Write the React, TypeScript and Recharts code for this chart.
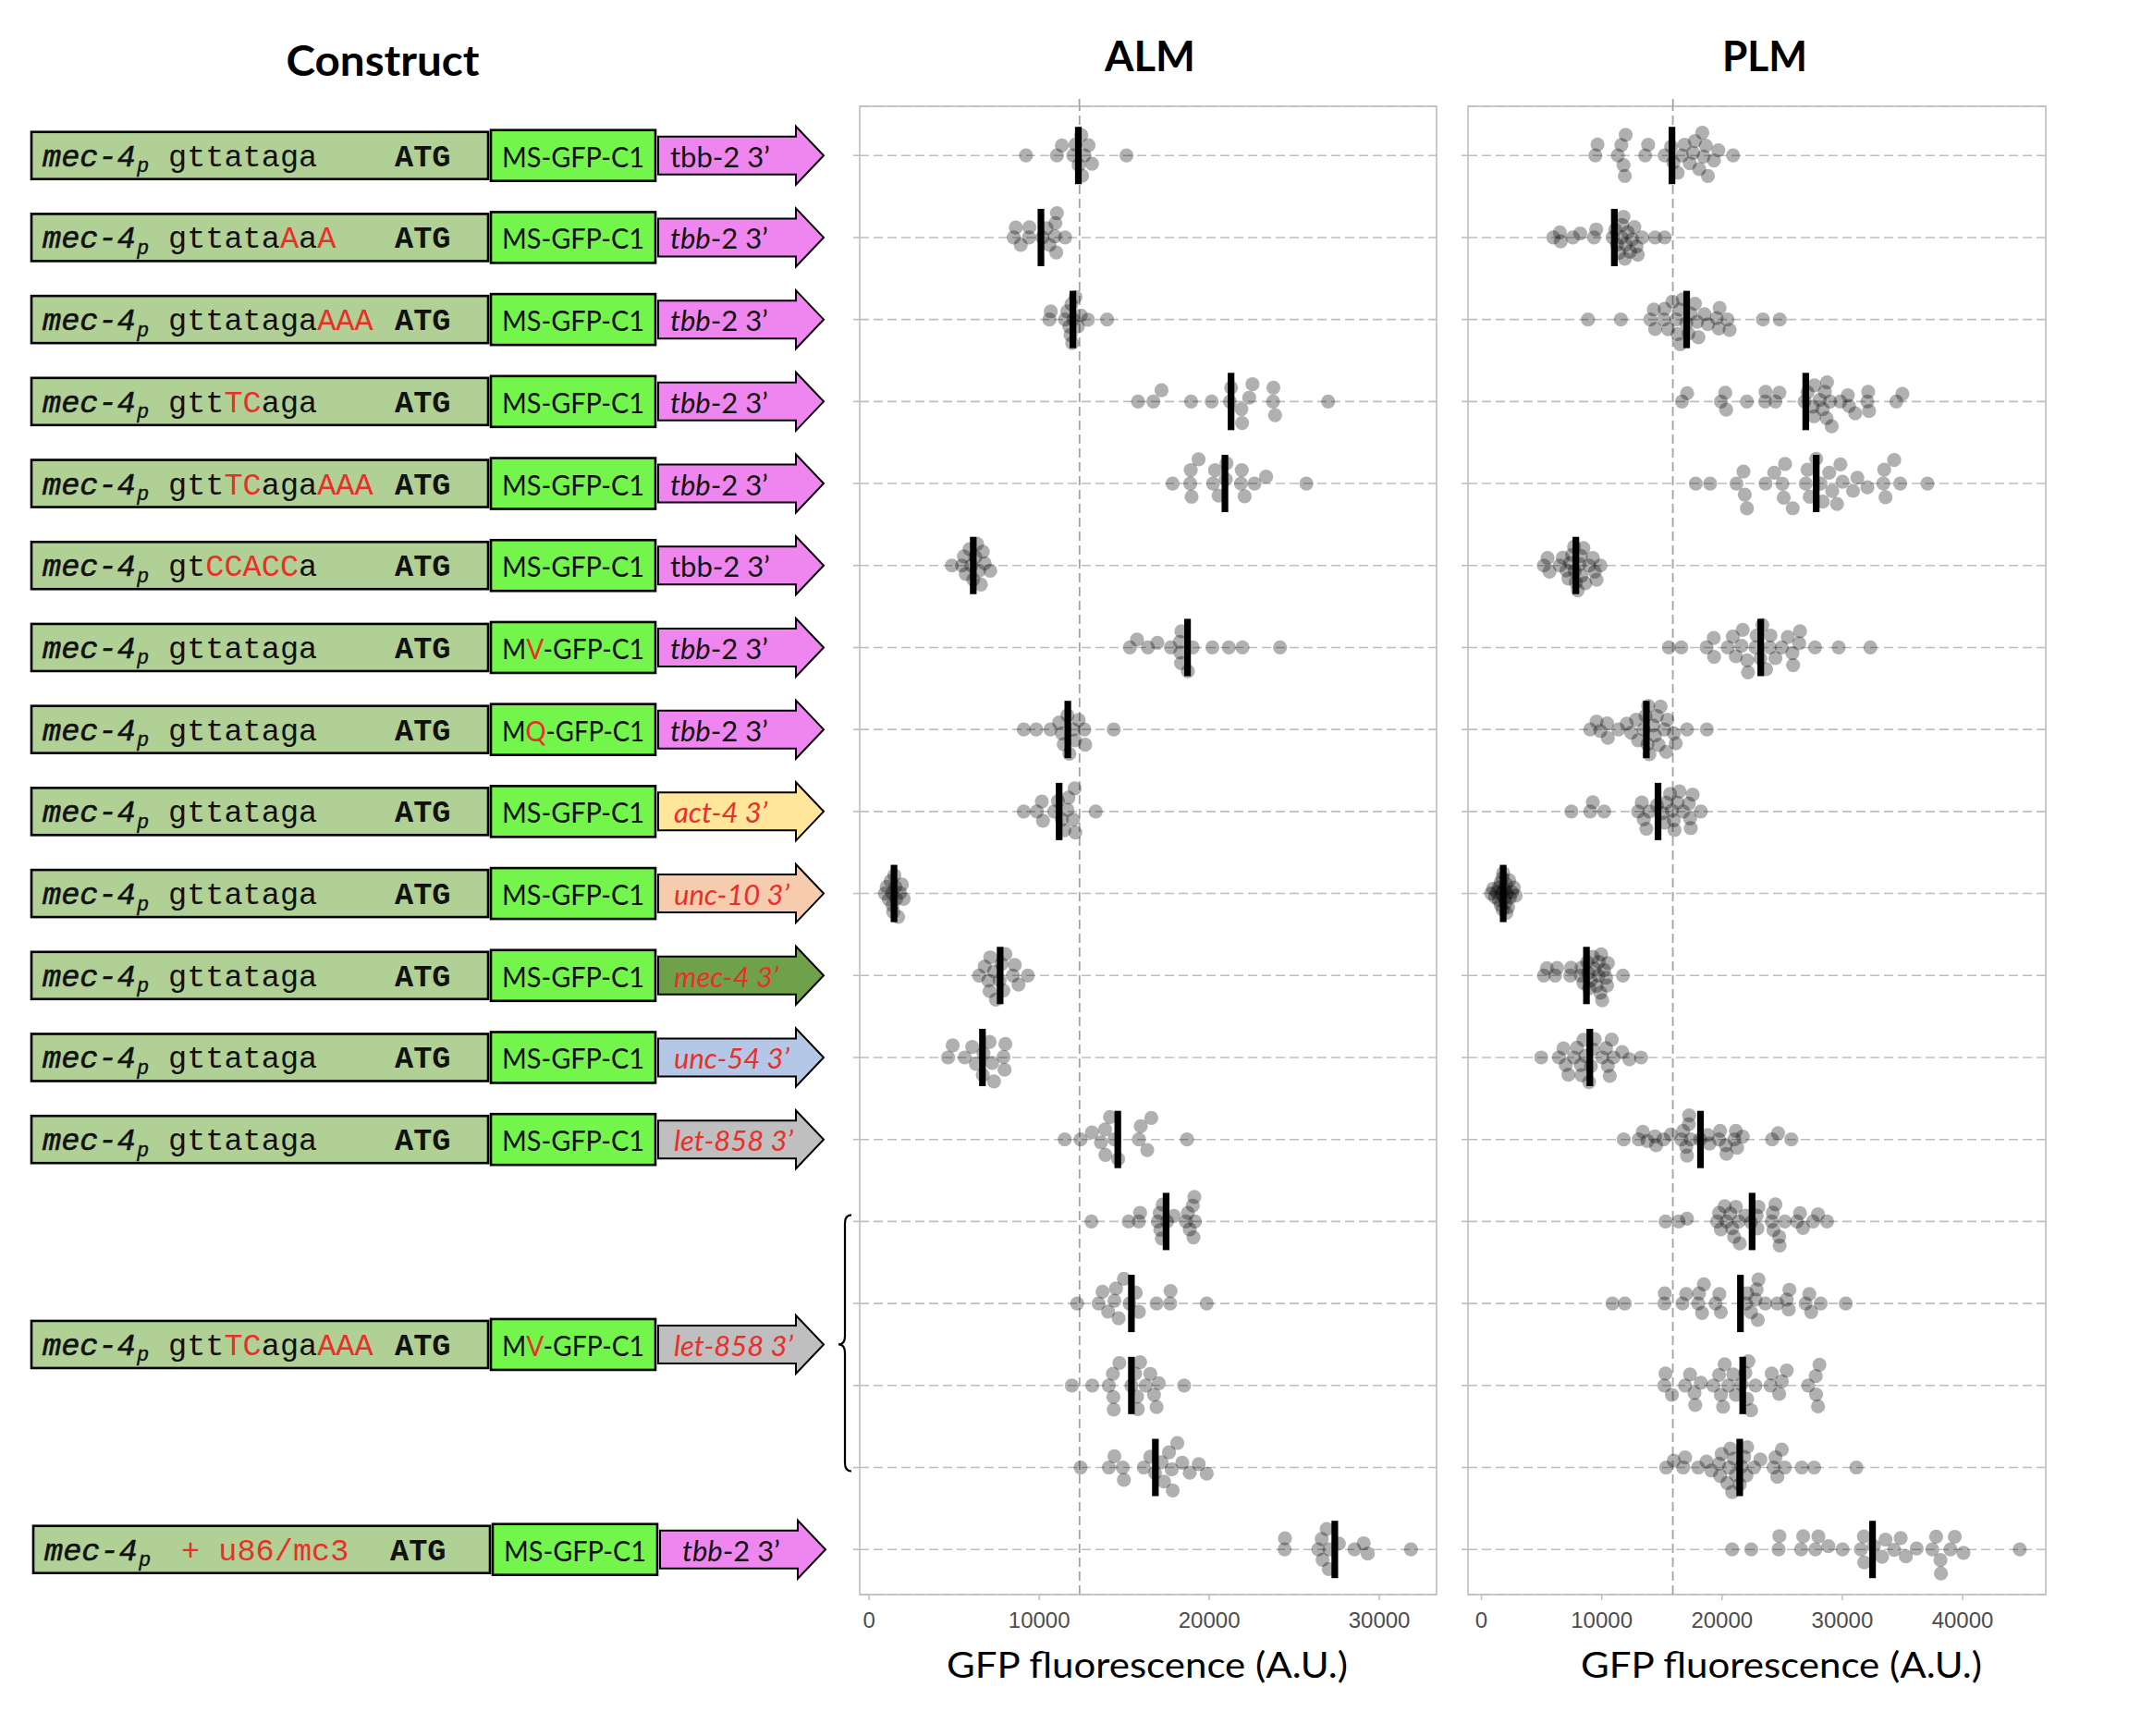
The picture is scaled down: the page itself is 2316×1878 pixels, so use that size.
import React from 'react';
import { ScatterChart, Scatter, XAxis, YAxis, CartesianGrid, ReferenceLine } from 'recharts';

// ---------------- DATA ----------------
// construct descriptions ({...} = red, _..._ = italic)
const CONSTRUCT_ROW_POS = [1, 2, 3, 4, 5, 6, 7, 8, 9, 10, 11, 12, 13, 15.5, 18];
const PROMOTER_SEQ = [
  'gttataga', 'gttata{A}a{A}', 'gttataga{AAA}', 'gtt{TC}aga', 'gtt{TC}aga{AAA}', 'gt{CCACC}a',
  'gttataga', 'gttataga', 'gttataga', 'gttataga', 'gttataga', 'gttataga', 'gttataga',
  'gtt{TC}aga{AAA}', '{+ u86/mc3}',
];
const GFP_LABEL = [
  'MS-GFP-C1', 'MS-GFP-C1', 'MS-GFP-C1', 'MS-GFP-C1', 'MS-GFP-C1', 'MS-GFP-C1', 'M{V}-GFP-C1', 'M{Q}-GFP-C1',
  'MS-GFP-C1', 'MS-GFP-C1', 'MS-GFP-C1', 'MS-GFP-C1', 'MS-GFP-C1', 'M{V}-GFP-C1', 'MS-GFP-C1',
];
const UTR_GENE = [
  'tbb-2', 'tbb-2', 'tbb-2', 'tbb-2', 'tbb-2', 'tbb-2', 'tbb-2', 'tbb-2',
  'act-4', 'unc-10', 'mec-4', 'unc-54', 'let-858', 'let-858', 'tbb-2',
];
const UTR_LABEL = [
  'tbb-2 3’', '_tbb_-2 3’', '_tbb_-2 3’', '_tbb_-2 3’', '_tbb_-2 3’', 'tbb-2 3’', '_tbb_-2 3’', '_tbb_-2 3’',
  '{_act-4 3’_}', '{_unc-10 3’_}', '{_mec-4 3’_}', '{_unc-54 3’_}', '{_let-858 3’_}', '{_let-858 3’_}', '_tbb_-2 3’',
];

const ALM_TICKS = [0, 10000, 20000, 30000];
const PLM_TICKS = [0, 10000, 20000, 30000, 40000];
const ALM_DOMAIN: [number, number] = [-557, 33366];
const PLM_DOMAIN: [number, number] = [-1116, 46913];
const ALM_REF = 12370;
const PLM_REF = 15910;

const almR01 = [9220, 11040, 11330, 12130, 12320, 12470, 12520, 12660, 12900, 13100, 15130, 12000];
const almR02 = [8500, 8620, 8910, 9420, 9400, 10190, 10430, 10600, 10920, 10950, 11040, 11000, 11520];
const almR03 = [10600, 10680, 11520, 11650, 11770, 11890, 12010, 12130, 12270, 12440, 12860, 13990, 11940, 11840];
const almR04 = [15810, 16710, 17190, 18930, 20140, 21210, 21280, 21890, 21930, 22350, 22540, 23750, 23770, 23870, 26990];
const almR05 = [17840, 18880, 18910, 18960, 19370, 20220, 20340, 20550, 20970, 21010, 21860, 22080, 21910, 22660, 23340, 25710];
const almR06 = [4860, 5460, 5570, 5680, 5900, 6010, 6120, 6240, 6350, 6460, 6570, 6680, 6790, 7120];
const almR07 = [15330, 15750, 16390, 16950, 17740, 18300, 18340, 18360, 18740, 19030, 20180, 21150, 21950, 24160, 18270];
const almR08 = [9090, 9820, 10660, 11170, 11330, 11440, 11660, 11770, 11990, 12100, 12320, 12650, 12700, 14380];
const almR09 = [9090, 9860, 10150, 10220, 10880, 11100, 11330, 11660, 11720, 11990, 12080, 12120, 13320, 11480];
const almR10 = [920, 1030, 1150, 1260, 1370, 1410, 1480, 1540, 1590, 1700, 1810, 1920, 2030, 1350];
const almR11 = [6460, 6790, 7010, 7120, 7340, 7450, 7670, 7780, 7890, 8010, 8450, 8560, 8780, 9330, 7080];
const almR12 = [4640, 4910, 5620, 6060, 6280, 6680, 6720, 7080, 7230, 7340, 7900, 7960, 8010];
const almR13 = [11500, 12430, 13100, 13630, 13870, 13890, 14160, 14420, 14640, 15860, 15970, 16350, 16590, 18690];
const almR14 = [13070, 15260, 15860, 15930, 16970, 17080, 17120, 17260, 17520, 17920, 18630, 18740, 18850, 19030, 19120, 19160, 19070, 17210];
const almR15 = [12230, 13490, 13720, 14050, 14420, 14510, 14670, 14980, 15310, 15680, 15860, 16900, 17700, 17720, 19850];
const almR16 = [11920, 13120, 14090, 14360, 14380, 14330, 14710, 15420, 15750, 15800, 15930, 16260, 16530, 16750, 16900, 17030, 18520, 15640];
const almR17 = [12430, 14090, 14420, 14910, 14980, 16150, 16530, 16810, 17190, 17340, 17630, 17790, 17850, 18120, 18410, 18850, 19380, 19850];
const almR18 = [24430, 24450, 26410, 26660, 26610, 26900, 27020, 27070, 27620, 28540, 29080, 29320, 31860];

const plmR01 = [9470, 9650, 11340, 11630, 11810, 11920, 11990, 13610, 13860, 15230, 15770, 15950, 16310, 16670, 16880, 17320, 17600, 17750, 18110, 18360, 18470, 18650, 18830, 19330, 19690, 20920];
const plmR02 = [5980, 6520, 6590, 7600, 8210, 9360, 9540, 10910, 11120, 11270, 11450, 11630, 11700, 11810, 11920, 11990, 12170, 12350, 12530, 12710, 12890, 13000, 13360, 14440, 15230];
const plmR03 = [8860, 11590, 14040, 14330, 14440, 15160, 15230, 15520, 15880, 16200, 16490, 16520, 16740, 17030, 17210, 17390, 17750, 17930, 18040, 18540, 18830, 19550, 19730, 19800, 20450, 20630, 23400, 24800, 16310];
const plmR04 = [16670, 17100, 19910, 20270, 20340, 22070, 23580, 23620, 24440, 24770, 26860, 27110, 27540, 27650, 28120, 28370, 28550, 28730, 28980, 29120, 29840, 30460, 30560, 31070, 32150, 32220, 32080, 34490, 34990, 27680, 28690];
const plmR05 = [17820, 19010, 21200, 21780, 21890, 22070, 23620, 24340, 25020, 25130, 25240, 25880, 26960, 27110, 27290, 27830, 28370, 28910, 29160, 29560, 29840, 30020, 30890, 31250, 32080, 33410, 33480, 33590, 34310, 34810, 37080, 28190];
const plmR06 = [5190, 5500, 5660, 6510, 6760, 7070, 7230, 7380, 7540, 7700, 7760, 7850, 8010, 8170, 8260, 8320, 8480, 8630, 8950, 9260, 9420, 9570, 9890];
const plmR07 = [15580, 16620, 18710, 19310, 19340, 20470, 20900, 21150, 21620, 21720, 22090, 22160, 22780, 22880, 23190, 23350, 23660, 23970, 24030, 24440, 24970, 25470, 25850, 25910, 26410, 26480, 27730, 29700, 32330];
const plmR08 = [9040, 9570, 9890, 10450, 10510, 11390, 12080, 12450, 12860, 13020, 13490, 13640, 13800, 13860, 13960, 14270, 14430, 14580, 14740, 14890, 15210, 15360, 15460, 15990, 16150, 17090, 18740];
const plmR09 = [7480, 9040, 9260, 10200, 13020, 13330, 13490, 13710, 13960, 14580, 15050, 15210, 15360, 15680, 15830, 15990, 16300, 16460, 16770, 17240, 17340, 17400, 17560, 18240, 16050];
const plmR10 = [810, 970, 1120, 1280, 1440, 1590, 1690, 1750, 1810, 1910, 2000, 2060, 2120, 2220, 2310, 2370, 2530, 2690, 2840, 1450, 1760, 1900, 2070, 1600];
const plmR11 = [5190, 5440, 6130, 6290, 7380, 7450, 8260, 8320, 8480, 8790, 8880, 8950, 9100, 9260, 9420, 9570, 9730, 9760, 9890, 9950, 10040, 10200, 10360, 10450, 10510, 11760];
const plmR12 = [4970, 6440, 6820, 7010, 7230, 7700, 7950, 8260, 8320, 8480, 8630, 8950, 9100, 9260, 9420, 10040, 10360, 10510, 10670, 10830, 10980, 11700, 12300, 13270];
const plmR13 = [11830, 13080, 13420, 13800, 14430, 14520, 15140, 15740, 16620, 16770, 17020, 17090, 17240, 17270, 17400, 18180, 18810, 18960, 19750, 19840, 20310, 20370, 21030, 21150, 21250, 21720, 24160, 24660, 25760];
const plmR14 = [15300, 16400, 17090, 19590, 19750, 19900, 20220, 20370, 20690, 20840, 21000, 21150, 21400, 21470, 21940, 22410, 22880, 22940, 23030, 24130, 24220, 24280, 24440, 24750, 24790, 25220, 26230, 26480, 26730, 27570, 27980, 28730];
const plmR15 = [10890, 11920, 15210, 15240, 16710, 17020, 18020, 18090, 18340, 18490, 19460, 19780, 19900, 22000, 22090, 22410, 22780, 22880, 22970, 23030, 23600, 24600, 25380, 25540, 25600, 26950, 27260, 27410, 28200, 30290];
const plmR16 = [15210, 15300, 15830, 16930, 17340, 17710, 17770, 18240, 19280, 19750, 19900, 20090, 20220, 20530, 20940, 21150, 21620, 21940, 22090, 22190, 22410, 22780, 24030, 24130, 24750, 24970, 25380, 27160, 27820, 27980, 28100, 27790];
const plmR17 = [15360, 15990, 16770, 16930, 18020, 18710, 19120, 19750, 19840, 19970, 20430, 20590, 20690, 20840, 21000, 21150, 21470, 21620, 21840, 22030, 22090, 22660, 23190, 24280, 24440, 24600, 24970, 25220, 26630, 27660, 31170];
const plmR18 = [20840, 22430, 24700, 24770, 26570, 26750, 27760, 28010, 28840, 30020, 31540, 31790, 31820, 32620, 33300, 33590, 34310, 34850, 35280, 36180, 37480, 37800, 38160, 38200, 38990, 39350, 40070, 44750];

const ALM_MEDIANS = [12300, 10100, 11980, 21280, 20920, 6120, 18720, 11680, 11170, 1460, 7700, 6660, 14620, 17460, 15420, 15420, 16830, 27380];
const PLM_MEDIANS = [15840, 11050, 17060, 26960, 27830, 7850, 23220, 13710, 14680, 1810, 8730, 9010, 18210, 22500, 21530, 21720, 21470, 32510];

const ALM_ROWS = [almR01, almR02, almR03, almR04, almR05, almR06, almR07, almR08, almR09, almR10, almR11, almR12, almR13, almR14, almR15, almR16, almR17, almR18];
const PLM_ROWS = [plmR01, plmR02, plmR03, plmR04, plmR05, plmR06, plmR07, plmR08, plmR09, plmR10, plmR11, plmR12, plmR13, plmR14, plmR15, plmR16, plmR17, plmR18];

// ---------------- LAYOUT / STYLE ----------------
const PLOT_TOP = 115;
const PLOT_H = 1610;
const Y_DOMAIN: [number, number] = [0.4, 18.55];
const ROW_TICKS = Array.from({ length: 18 }, (_, i) => i + 1);
const rowY = (p: number) => PLOT_TOP + ((p - Y_DOMAIN[0]) * PLOT_H) / (Y_DOMAIN[1] - Y_DOMAIN[0]);

const RED = '#E8302A';
const SANS = 'Lato, "Open Sans", sans-serif';
const MONO = '"Liberation Mono", "DejaVu Sans Mono", monospace';
const DOT_R = 7.6;
const UTR_FILL: Record<string, string> = {
  'tbb-2': '#EF86EF', 'act-4': '#FFE69B', 'unc-10': '#F6CBAE', 'mec-4': '#6FA04A', 'unc-54': '#B5C7E6', 'let-858': '#BFBFBF',
};

function parseMarkup(s: string) {
  const segs: { t: string; red: boolean; it: boolean }[] = [];
  let red = false, it = false, buf = '';
  const flush = () => { if (buf) { segs.push({ t: buf, red, it }); buf = ''; } };
  for (const ch of s) {
    if (ch === '{') { flush(); red = true; }
    else if (ch === '}') { flush(); red = false; }
    else if (ch === '_') { flush(); it = !it; }
    else buf += ch;
  }
  flush();
  return segs;
}

function Markup({ s }: { s: string }) {
  return (
    <>
      {parseMarkup(s).map((g, i) => (
        <tspan key={i} fill={g.red ? RED : '#111'} fontStyle={g.it ? 'italic' : 'normal'}>{g.t}</tspan>
      ))}
    </>
  );
}

// beeswarm layout (pixel offsets), compressing when the swarm gets too tall
function swarmOffsets(values: number[], pxPerUnit: number, maxOff = 27): number[] {
  const order = values.map((_, i) => i).sort((a, b) => values[a] - values[b]);
  let last: number[] = values.map(() => 0);
  for (let d = 15; d >= 2; d -= 0.5) {
    const ys = values.map(() => 0);
    const placed: number[] = [];
    let ok = true;
    for (const i of order) {
      const xi = values[i] * pxPerUnit;
      const iv: [number, number][] = [];
      for (const j of placed) {
        const dx = Math.abs(xi - values[j] * pxPerUnit);
        if (dx < d) { const h = Math.sqrt(d * d - dx * dx); iv.push([ys[j] - h, ys[j] + h]); }
      }
      const cands = [0, ...iv.flatMap(([a, b]) => [a, b])].sort((a, b) => Math.abs(a) - Math.abs(b) || a - b);
      let chosen = 0;
      for (const c of cands) {
        if (iv.every(([a, b]) => c <= a + 1e-6 || c >= b - 1e-6)) { chosen = c; break; }
      }
      ys[i] = chosen;
      placed.push(i);
      if (Math.abs(chosen) > maxOff) { ok = false; break; }
    }
    last = ys;
    if (ok) return ys;
  }
  return last.map((y) => Math.max(-maxOff, Math.min(maxOff, y)));
}

function buildPoints(rows: number[][], pxPerUnit: number) {
  return rows.flatMap((vals, i) => {
    const dy = swarmOffsets(vals, pxPerUnit);
    return vals.map((v, k) => ({ x: v, y: i + 1, dy: dy[k] }));
  });
}

const ALM_PX = 624 / (ALM_DOMAIN[1] - ALM_DOMAIN[0]);
const PLM_PX = 625 / (PLM_DOMAIN[1] - PLM_DOMAIN[0]);
const almPoints = buildPoints(ALM_ROWS, ALM_PX);
const plmPoints = buildPoints(PLM_ROWS, PLM_PX);
const almMed = ALM_MEDIANS.map((m, i) => ({ x: m, y: i + 1 }));
const plmMed = PLM_MEDIANS.map((m, i) => ({ x: m, y: i + 1 }));

const dotShape = (p: any) => (
  <circle cx={p.cx} cy={p.cy + (p.payload?.dy ?? 0)} r={DOT_R} fill="#000" fillOpacity={0.31} />
);
const barShape = (p: any) => <rect x={p.cx - 3.6} y={p.cy - 31} width={7.2} height={62} fill="#000" />;

function Panel(props: {
  points: any[]; medians: any[]; domain: [number, number]; ticks: number[]; refX: number;
  width: number; yAxisWidth: number; marginRight: number;
}) {
  const { points, medians, domain, ticks, refX, width, yAxisWidth, marginRight } = props;
  return (
    <ScatterChart width={width} height={1778} margin={{ top: 15, right: marginRight, bottom: 93, left: 0 }}>
      <CartesianGrid vertical={false} stroke="#BEBEBE" strokeDasharray="10 5" strokeWidth={1.6} />
      <XAxis
        type="number" dataKey="x" domain={domain} ticks={ticks} allowDataOverflow interval={0} height={60}
        axisLine={false} tickSize={6} tickMargin={13} tickLine={{ stroke: '#BDBDBD', strokeWidth: 1.5 }}
        tick={{ fill: '#4D4D4D', fontSize: 24, fontFamily: '"Liberation Sans", Arial, sans-serif' }}
      />
      <YAxis
        type="number" dataKey="y" domain={Y_DOMAIN} ticks={ROW_TICKS} reversed allowDataOverflow width={yAxisWidth}
        axisLine={false} tickSize={7} tickLine={{ stroke: '#BEBEBE', strokeWidth: 1.6 }} tick={() => <g />}
      />
      <Scatter data={points} isAnimationActive={false} shape={dotShape} />
      <Scatter data={medians} isAnimationActive={false} shape={barShape} />
      <ReferenceLine x={refX} stroke="#A3A3A3" strokeDasharray="10 5" strokeWidth={1.8} />
    </ScatterChart>
  );
}

function ConstructRow({ idx }: { idx: number }) {
  const cy = rowY(CONSTRUCT_ROW_POS[idx]);
  const last = idx === CONSTRUCT_ROW_POS.length - 1;
  const dx = last ? 2 : 0;
  const seqX = last ? 196 : 182;
  const atgX = last ? 422 : 427;
  const gene = UTR_GENE[idx];
  const utrX = gene === 'tbb-2' ? (last ? 738 : 725) : 729;
  const ax = 712 + dx;
  return (
    <g>
      <rect x={34 + dx} y={cy - 25.5} width={494} height={51} fill="#B0D095" stroke="#000" strokeWidth={2.6} />
      <rect x={531 + dx} y={cy - 27.5} width={178} height={55} fill="#74F54B" stroke="#000" strokeWidth={2.6} />
      <polygon
        points={`${ax},${cy - 20.5} ${ax + 149},${cy - 20.5} ${ax + 149},${cy - 31.5} ${ax + 179},${cy} ${ax + 149},${cy + 31.5} ${ax + 149},${cy + 20.5} ${ax},${cy + 20.5}`}
        fill={UTR_FILL[gene]} stroke="#000" strokeWidth={2}
      />
      <text x={46 + dx} y={cy + 11.5} fontFamily={MONO} fontSize={33.6} fontStyle="italic" fill="#111" stroke="#111" strokeWidth={0.6}>mec-4</text>
      <text x={148 + dx} y={cy + 18} fontFamily={MONO} fontSize={22} fontStyle="italic" fill="#111" stroke="#111" strokeWidth={0.4}>p</text>
      <text x={seqX} y={cy + 11.5} fontFamily={MONO} fontSize={33.6} style={{ whiteSpace: 'pre' }}>
        <Markup s={PROMOTER_SEQ[idx]} />
      </text>
      <text x={atgX} y={cy + 11.5} fontFamily={MONO} fontSize={33.6} fontWeight="bold" fill="#111">ATG</text>
      <text x={543 + dx} y={cy + 12.5} fontFamily={SANS} fontSize={30} textLength={154} lengthAdjust="spacingAndGlyphs">
        <Markup s={GFP_LABEL[idx]} />
      </text>
      <text x={utrX} y={cy + 12.5} fontFamily={SANS} fontSize={31} style={{ whiteSpace: 'pre' }}>
        <Markup s={UTR_LABEL[idx]} />
      </text>
    </g>
  );
}

export default function App() {
  const braceTop = rowY(14) - 7;
  const braceBot = rowY(17) + 4;
  const braceMid = rowY(15.5);
  return (
    <div style={{ position: 'relative', width: 2316, height: 1878, background: '#fff', overflow: 'hidden' }}>
      <style>{'body{margin:0}'}</style>
      <svg width={2316} height={1878} style={{ position: 'absolute', left: 0, top: 0 }}>
        <text x={414} y={82} textAnchor="middle" fontFamily={SANS} fontWeight="bold" fontSize={46} textLength={209} lengthAdjust="spacingAndGlyphs">Construct</text>
        <text x={1244} y={77} textAnchor="middle" fontFamily={SANS} fontWeight="bold" fontSize={46} textLength={98} lengthAdjust="spacingAndGlyphs">ALM</text>
        <text x={1909} y={77} textAnchor="middle" fontFamily={SANS} fontWeight="bold" fontSize={46} textLength={92} lengthAdjust="spacingAndGlyphs">PLM</text>
        <text x={1241} y={1815} textAnchor="middle" fontFamily={SANS} fontSize={39} textLength={434} lengthAdjust="spacingAndGlyphs">GFP fluorescence (A.U.)</text>
        <text x={1927} y={1815} textAnchor="middle" fontFamily={SANS} fontSize={39} textLength={434} lengthAdjust="spacingAndGlyphs">GFP fluorescence (A.U.)</text>
        {CONSTRUCT_ROW_POS.map((_, i) => <ConstructRow key={i} idx={i} />)}
        <path
          d={`M 921 ${braceTop} Q 914 ${braceTop} 914 ${braceTop + 9} L 914 ${braceMid - 9} Q 914 ${braceMid} 907 ${braceMid} Q 914 ${braceMid} 914 ${braceMid + 9} L 914 ${braceBot - 9} Q 914 ${braceBot} 921 ${braceBot}`}
          fill="none" stroke="#000" strokeWidth={2.2}
        />
        <rect x={930} y={PLOT_TOP} width={624} height={PLOT_H} fill="none" stroke="#BDBDBD" strokeWidth={1.6} />
        <rect x={1588} y={PLOT_TOP} width={625} height={PLOT_H} fill="none" stroke="#BDBDBD" strokeWidth={1.6} />
        <line x1={1167.6} x2={1167.6} y1={PLOT_TOP - 8} y2={PLOT_TOP} stroke="#A3A3A3" strokeWidth={1.8} />
        <line x1={1809.7} x2={1809.7} y1={PLOT_TOP - 8} y2={PLOT_TOP} stroke="#A3A3A3" strokeWidth={1.8} />
      </svg>
      <div style={{ position: 'absolute', left: 860, top: 100 }}>
        <Panel points={almPoints} medians={almMed} domain={ALM_DOMAIN} ticks={ALM_TICKS} refX={ALM_REF} width={720} yAxisWidth={70} marginRight={26} />
      </div>
      <div style={{ position: 'absolute', left: 1560, top: 100 }}>
        <Panel points={plmPoints} medians={plmMed} domain={PLM_DOMAIN} ticks={PLM_TICKS} refX={PLM_REF} width={756} yAxisWidth={28} marginRight={103} />
      </div>
    </div>
  );
}
